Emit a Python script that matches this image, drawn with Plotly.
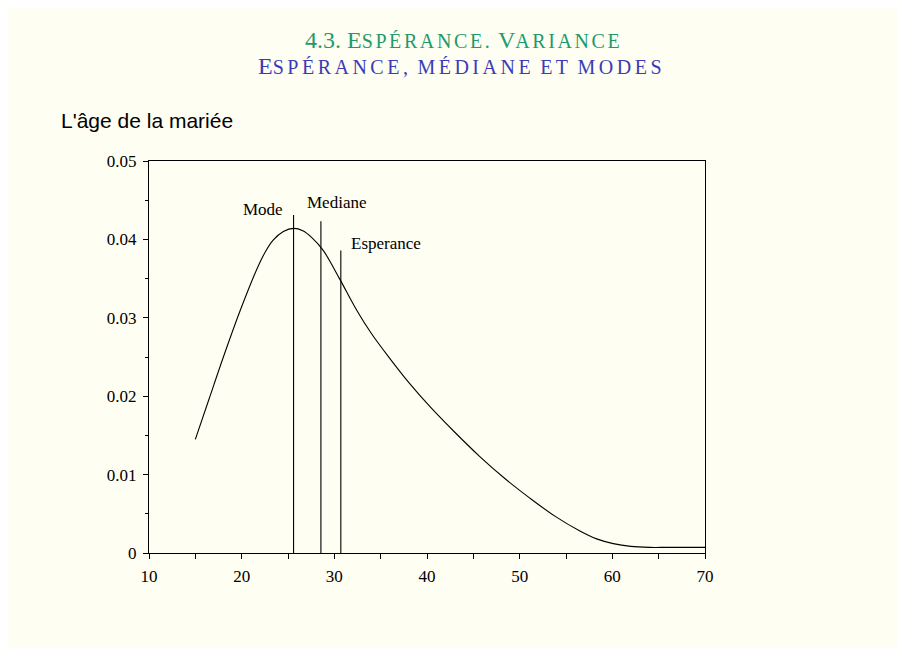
import plotly.graph_objects as go

# ---- data ----
age = [15.0, 16.5, 18.0, 19.8, 21.6, 22.5, 23.4, 24.5, 25.6, 26.6, 27.6, 28.8, 30.6, 32.4, 34.0, 36.0, 38.0, 40.3, 43.0, 45.7, 48.4, 51.1, 53.8, 56.5, 58.3, 60.1, 62.0, 64.0, 66.0, 70.0]
density = [0.0145, 0.0197, 0.0249, 0.0308, 0.0361, 0.0383, 0.0399, 0.0410, 0.0414, 0.0411, 0.0402, 0.0386, 0.0349, 0.0310, 0.0280, 0.0248, 0.0218, 0.0187, 0.0154, 0.0123, 0.0095, 0.0070, 0.0047, 0.0028, 0.0018, 0.0012, 0.00085, 0.00072, 0.00072, 0.00072]

stat_names = ["Mode", "Mediane", "Esperance"]
stat_x = [25.6, 28.55, 30.7]
stat_top = [0.0431, 0.0423, 0.0386]

x_ticks = [10, 20, 30, 40, 50, 60, 70]
y_ticks = [0, 0.01, 0.02, 0.03, 0.04, 0.05]
y_tick_text = ["0", "0.01", "0.02", "0.03", "0.04", "0.05"]

# ---- layout helpers (screen pixel coords; page has 8px body offset) ----
W, H = 906, 648
OFF = 8
L, R, T, B = 149, 705, 161, 553
def px(xp):
    return (xp - L) / (R - L)
def py(yp):
    return (B - yp) / (B - T)

bg = "#fefef2"
serif = "Liberation Serif, Times New Roman, serif"

def smallcaps(text, small, spacing):
    out = []
    st = f'font-size:{small}px;letter-spacing:{spacing}px'
    for word in text.split(" "):
        if word and word[0].isalpha() and word[0].isupper():
            out.append(word[0] + f'<span style="{st}">{word[1:].upper()}</span>')
        elif word and word[0].isalpha():
            out.append(f'<span style="{st}">{word.upper()}</span>')
        else:
            out.append(word)
    return " ".join(out)

fig = go.Figure()
fig.add_trace(go.Scatter(x=age, y=density, mode="lines",
                         line=dict(color="black", width=1.1, shape="spline", smoothing=1.0),
                         hoverinfo="skip", showlegend=False))

for name, sx, st in zip(stat_names, stat_x, stat_top):
    fig.add_trace(go.Scatter(x=[sx, sx], y=[0, st], mode="lines", line=dict(color="black", width=1.1),
                             showlegend=False, hoverinfo="skip"))

label_style = {
    "Mode": dict(xanchor="right", xshift=-9, yshift=6),
    "Mediane": dict(xanchor="left", xshift=-16, yshift=19),
    "Esperance": dict(xanchor="left", xshift=8, yshift=7),
}
for name, sx, st in zip(stat_names, stat_x, stat_top):
    fig.add_annotation(x=sx, y=st, text=name, showarrow=False, yanchor="middle",
                       font=dict(family=serif, size=17, color="black"), **label_style[name])

fig.add_annotation(xref="paper", yref="paper", x=px(463), y=py(40), text=smallcaps("4.3. Espérance. Variance", 20, 2.6),
                   showarrow=False, xanchor="center", yanchor="middle", font=dict(family=serif, size=24, color="#1f9a6c"))
fig.add_annotation(xref="paper", yref="paper", x=px(461), y=py(66), text=smallcaps("Espérance, médiane et modes", 20, 3.5),
                   showarrow=False, xanchor="center", yanchor="middle", font=dict(family=serif, size=24, color="#3b3bb8"))
fig.add_annotation(xref="paper", yref="paper", x=px(59), y=py(120), text="L'âge de la mariée",
                   showarrow=False, xanchor="left", yanchor="middle",
                   font=dict(family="Liberation Sans, Arial, sans-serif", size=21, color="black"))

fig.update_layout(
    width=W, height=H,
    margin=dict(l=L - OFF, r=W - R + OFF, t=T - OFF, b=H - B + OFF, pad=0),
    paper_bgcolor=bg, plot_bgcolor=bg,
    font=dict(family=serif, size=17, color="black"),
    xaxis=dict(range=[10, 70], tickvals=x_ticks, ticks="outside", ticklen=5, tickcolor="black",
               showline=True, linecolor="black", linewidth=1, mirror=True, showgrid=False, zeroline=False,
               tickfont=dict(family=serif, size=17), ticklabelstandoff=3,
               minor=dict(dtick=5, tick0=10, ticks="outside", ticklen=5, tickcolor="black")),
    yaxis=dict(range=[0, 0.05], tickvals=y_ticks, ticktext=y_tick_text, ticks="outside", ticklen=5, tickcolor="black",
               showline=True, linecolor="black", linewidth=1, mirror=True, showgrid=False, zeroline=False,
               tickfont=dict(family=serif, size=17), ticklabelstandoff=3,
               minor=dict(dtick=0.005, tick0=0, ticks="outside", ticklen=3, tickcolor="black")),
)

fig.write_html("out.html")
